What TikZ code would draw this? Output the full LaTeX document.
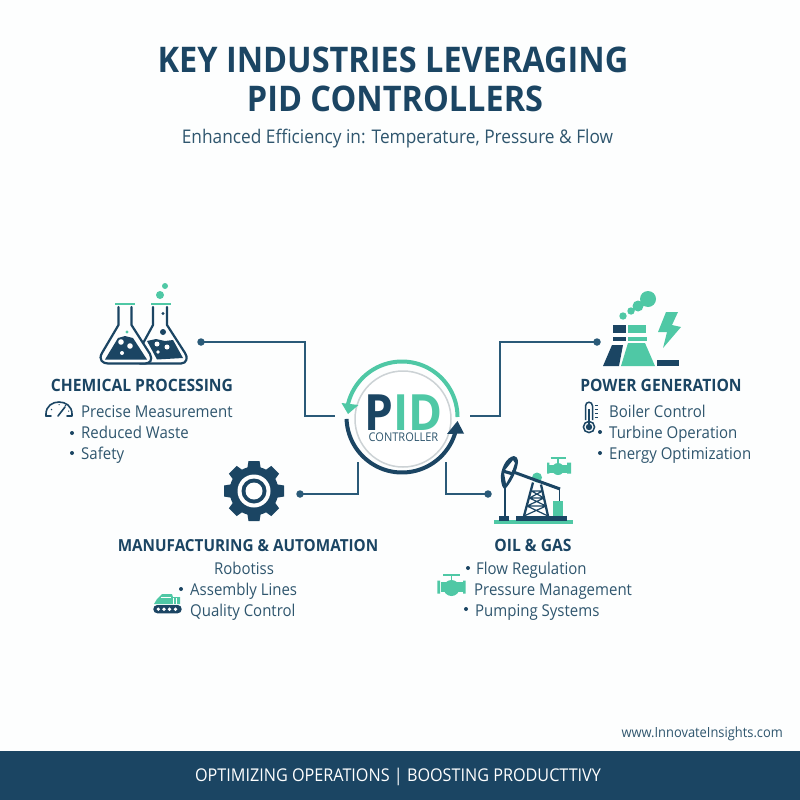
\documentclass[tikz,border=0pt]{standalone}
\usepackage{fontspec}
\setmainfont{Open Sans}[FakeStretch=0.92]
\usetikzlibrary{calc}
\definecolor{navy}{HTML}{1B4563}
\definecolor{tealc}{HTML}{4FC8A5}
\definecolor{bodyc}{HTML}{2F566E}
\definecolor{linec}{HTML}{2A5A78}
\definecolor{greyc}{HTML}{CCD2D5}
\definecolor{bg}{HTML}{FDFEFE}
\tikzset{
  titletext/.style={font=\fontsize{35.3}{36}\selectfont\bfseries,text=navy,inner sep=0pt,anchor=base},
  subtext/.style={font=\fontsize{18.8}{19}\selectfont,text=bodyc,inner sep=0pt,anchor=base},
  headtext/.style={font=\fontsize{17}{17}\selectfont\bfseries,text=navy,inner sep=0pt,anchor=base},
  itemtext/.style={font=\fontsize{16.3}{16}\selectfont,text=bodyc,inner sep=0pt,anchor=base west},
  bul/.style={circle,fill=navy,minimum size=4pt,inner sep=0pt},
  dotn/.style={circle,fill=linec,minimum size=7.5pt,inner sep=0pt},
  conn/.style={draw=linec,line width=1.4pt,line join=miter},
  iconline/.style={draw=navy,line width=1.6pt,line join=round,line cap=round},
  flaskline/.style={draw=navy,line width=2.2pt,line join=round,line cap=round,fill=bg},
}
\begin{document}
\begin{tikzpicture}[x=1pt,y=-1pt]
\useasboundingbox (0,0) rectangle (800,800);
\fill[bg] (0,0) rectangle (800,800);
% title
\node[titletext] (t1) at (393,73) {KEY INDUSTRIES LEVERAGING};
\node[titletext] (t2) at (395,111) {PID CONTROLLERS};
\node[subtext] (t3) at (397.5,143) {Enhanced Efficiency in: Temperature, Pressure \& Flow};
% connector anchors
\node[dotn] (d1) at (201,342) {};
\node[dotn] (d2) at (597,342) {};
\node[dotn] (d3) at (300,494) {};
\node[dotn] (d4) at (488,494) {};
\coordinate (h1) at (335,416);
\coordinate (h2) at (470,416);
\coordinate (h3) at (358,462);
\coordinate (h4) at (446,462);
\coordinate (b1a) at (305,342);
\coordinate (b1b) at (305,416);
\coordinate (b2a) at (500,416);
\coordinate (b2b) at (500,342);
\coordinate (b3) at (358,494);
\coordinate (b4) at (446,494);
\draw[conn] (d1.center) -- (b1a) -- (b1b) -- (h1);
\draw[conn] (h2) -- (b2a) -- (b2b) -- (d2.center);
\draw[conn] (d3.center) -- (b3) -- (h3);
\draw[conn] (h4) -- (b4) -- (d4.center);
% hub
\node[circle,draw=greyc,line width=1.5pt,fill=white,minimum size=96pt,inner sep=0pt] (hub) at (403,419) {};
\draw[tealc,line width=4pt] plot[domain=0:168,samples=70] ({402+55.5*cos(\x)},{417-55.5*sin(\x)});
\fill[tealc] (341.5,403) -- (358.5,405) -- (348,414) -- cycle;
\draw[navy,line width=4pt] plot[domain=182:349,samples=70] ({402+55.5*cos(\x)},{417-55.5*sin(\x)});
\fill[navy] (457.5,421) -- (447,434) -- (464,433.5) -- cycle;
\node[inner sep=0pt,anchor=base,font=\fontsize{50}{50}\selectfont\bfseries] (pid) at (403.5,430) {\textcolor{navy}{P}\textcolor{tealc}{ID}};
\node[inner sep=0pt,anchor=base,text=bodyc,font=\fontsize{12}{12}\selectfont] (ctl) at (403.5,441.5) {CONTROLLER};
% flasks
\draw[flaskline] (153,307) -- (153,325) -- (135,358) -- (140,363.5) -- (181,363.5) .. controls (187,363.5) and (188,357) .. (185,353) -- (167,325) -- (167,307);
\fill[navy] (147,341) -- (156,339) -- (165,341) -- (173,340) -- (183,358) -- (157,359.5) -- cycle;
\fill[white] (157,344) circle (2.5) (167,347) circle (2.5) (158,352) circle (1.8);
\fill[navy] (163,332) circle (3) (163,313.5) circle (1.6);
\draw[flaskline] (118.5,307) -- (118.5,325) -- (102,353) .. controls (98,360) and (103,363.5) .. (108,363.5) -- (145,363.5) .. controls (150,363.5) and (153,360) .. (150,354) -- (131.5,325) -- (131.5,307);
\fill[navy] (105,359.5) -- (118,338) -- (125,336) -- (133,338) -- (147,359.5) -- cycle;
\fill[white] (121,342) circle (2.8) (130,346) circle (2.8) (122,353) circle (2);
\fill[tealc] (127,332) circle (1.6);
\draw[tealc,line width=2.6pt] (115,304) -- (135,304) (151,304) -- (171,304);
\fill[tealc] (160,295) circle (4) (165,286) circle (3);
\node[headtext] (h-chem) at (142,391) {CHEMICAL PROCESSING};
\node[itemtext] (c1) at (81,417) {Precise Measurement};
\node[itemtext] (c2) at (81,438) {Reduced Waste};
\node[itemtext] (c3) at (81,459) {Safety};
\node[bul] (cb2) at (72,433) {};
\node[bul] (cb3) at (72,453) {};
% gauge
\draw[iconline] (46,416) -- (46,414) .. controls (46,398) and (72,398) .. (72,414) -- (72,416) -- (67,416);
\draw[iconline] (46,416) -- (51,416);
\draw[iconline] (58,416) -- (65,407);
\draw[navy,line width=1pt] (51,409) -- (52,410) (59,404) -- (59,405) (66,405) -- (65,406) (69,411) -- (68,411);
% power
\fill[navy] (613,325) rectangle (626,333);
\fill[navy] (613,337) rectangle (626,341);
\fill[navy] (612,345) -- (623,345) -- (619,366) -- (603,366) -- cycle;
\fill[tealc] (628,325) rectangle (646,333);
\fill[tealc] (628,337) rectangle (647,341);
\fill[tealc] (628,343) -- (645,343) -- (655,366) -- (621,366) -- cycle;
\fill[navy] (657,360) rectangle (679,366);
\fill[tealc] (666,312) -- (678,312) -- (672,325) -- (681,327) -- (663,348) -- (667,332) -- (658,332) -- cycle;
\fill[tealc] (623,316) circle (3.7) (631,311) circle (3.7) (638,306) circle (5.5) (648,299) circle (8);
\node[headtext] (h-pow) at (661,391) {POWER GENERATION};
\node[itemtext] (p1) at (609,417) {Boiler Control};
\node[itemtext] (p2) at (609,438) {Turbine Operation};
\node[itemtext] (p3) at (609,459) {Energy Optimization};
\node[bul] (pb2) at (600,432) {};
\node[bul] (pb3) at (600,453) {};
% thermometer
\draw[navy,line width=1.5pt] (585.5,420) -- (585.5,406) .. controls (585.5,401) and (592.5,401) .. (592.5,406) -- (592.5,420);
\draw[navy,line width=1.5pt,fill=bg] (589,427) circle (5.6);
\fill[navy] (589,427) circle (3.2);
\draw[navy,line width=1.5pt] (589,409) -- (589,425);
\draw[navy,line width=.9pt] (594.5,405) -- (598,405) (594.5,409) -- (598,409) (594.5,413) -- (598,413) (594.5,417) -- (598,417);
% gear
\fill[navy] (254,491) circle (24.5);
\foreach \a in {0,45,...,315}
  \fill[navy,rotate around={\a:(254,491)},line join=round] (247,470) -- (248.5,461) -- (259.5,461) -- (261,470) -- cycle;
\fill[white] (254,491) circle (16.5);
\fill[navy] (254,491) circle (12.5);
\fill[white] (254,491) circle (8.5);
\node[headtext,font=\fontsize{16.6}{17}\selectfont\bfseries] (h-man) at (248,551) {MANUFACTURING \& AUTOMATION};
\node[itemtext,anchor=base] (m1) at (244,574) {Robotiss};
\node[itemtext] (m2) at (190,595) {Assembly Lines};
\node[itemtext] (m3) at (190,616) {Quality Control};
\node[bul] (mb2) at (181,589) {};
% conveyor
\fill[tealc] (154,604) -- (157,599) -- (162,594) -- (172,594) -- (173,597) -- (180,597) -- (180,604) -- cycle;
\draw[bg,line width=.7pt] (161,597.5) -- (171,597.5) (173,598) -- (173,604) (176.5,598) -- (176.5,604);
\fill[navy,rounded corners=4pt] (153.3,605) rectangle (181.7,613.3);
\foreach \q in {158.3,164,169.5,175.5}
  \fill[white] (\q,609.2) circle (1.8);
% oil
\fill[tealc] (494,520) rectangle (573,524);
\fill[navy] (516,516) rectangle (567,520.5);
\fill[navy] (499,516) rectangle (509,520.5);
\draw[navy,line width=2pt] (504.7,487) -- (504.7,516);
\fill[navy,even odd rule] (514,456) .. controls (506,457) and (500,470) .. (501,479) .. controls (501,484) and (503,489) .. (505,489) .. controls (510,484) and (517,472) .. (518,462) .. controls (518,458) and (516,456) .. (514,456) -- cycle
   (513,460) -- (505,470) -- (512,472) -- (515,463) -- cycle
   (504,473) -- (511,475) -- (506,484) -- cycle;
\fill[tealc] (537,477.5) circle (5);
\draw[navy,line width=3pt] (512,471.5) -- (560,489);
\draw[navy,line width=1.6pt] (559.5,489) -- (559.5,501);
\draw[navy,line width=2.3pt] (533,482.5) -- (524,516) (541,484.5) -- (548,516);
\draw[navy,line width=1.2pt] (531.5,491) -- (542.5,491) (529.5,498) -- (544,498) (527,506) -- (546,506)
   (531.5,491) -- (544,498) (542.5,491) -- (529.5,498) (529.5,498) -- (546,506) (544,498) -- (527,506) (527,506) -- (548,516) (546,506) -- (524,516);
\fill[tealc] (553,501) rectangle (563,516);
% valve top
\begin{scope}[shift={(558,467)}]
  \fill[tealc] (-11,-4.5) rectangle (-8.7,6.5) (9,-4.5) rectangle (13,6.5);
  \fill[tealc] (-9,-2.5) rectangle (10,5.5);
  \fill[tealc] (0,2) circle (6);
  \draw[tealc,line width=1.5pt] (0,-9) -- (0,-3) (-7.5,-9) -- (7.5,-9);
\end{scope}
\node[headtext] (h-oil) at (533,551) {OIL \& GAS};
\node[itemtext] (o1) at (476,574) {Flow Regulation};
\node[itemtext] (o2) at (474,595) {Pressure Management};
\node[itemtext] (o3) at (475,616) {Pumping Systems};
\node[bul] (ob1) at (468,568) {};
\node[bul] (ob3) at (466,609) {};
% valve lower
\begin{scope}[shift={(451.5,587)}]
  \fill[tealc] (-14.2,-6.5) rectangle (-11.5,6.5) (11.5,-6.5) rectangle (14.2,6.5);
  \fill[tealc] (-11,-4.7) rectangle (11,4.7);
  \fill[tealc] (0,1) circle (8);
  \draw[tealc,line width=1.8pt] (0,-12) -- (0,-5);
  \draw[tealc,line width=2pt] (-8.5,-12.3) -- (8.5,-12.3);
\end{scope}
% footer
\fill[navy] (0,751) rectangle (800,800);
\node[inner sep=0pt,anchor=base,text=white,font=\fontsize{17.6}{18}\selectfont] (foot) at (398,781) {OPTIMIZING OPERATIONS | BOOSTING PRODUCTTIVY};
\node[inner sep=0pt,anchor=base east,text=bodyc,font=\fontsize{14}{14}\selectfont] (web) at (783,737.5) {www.InnovateInsights.com};
\end{tikzpicture}
\end{document}
